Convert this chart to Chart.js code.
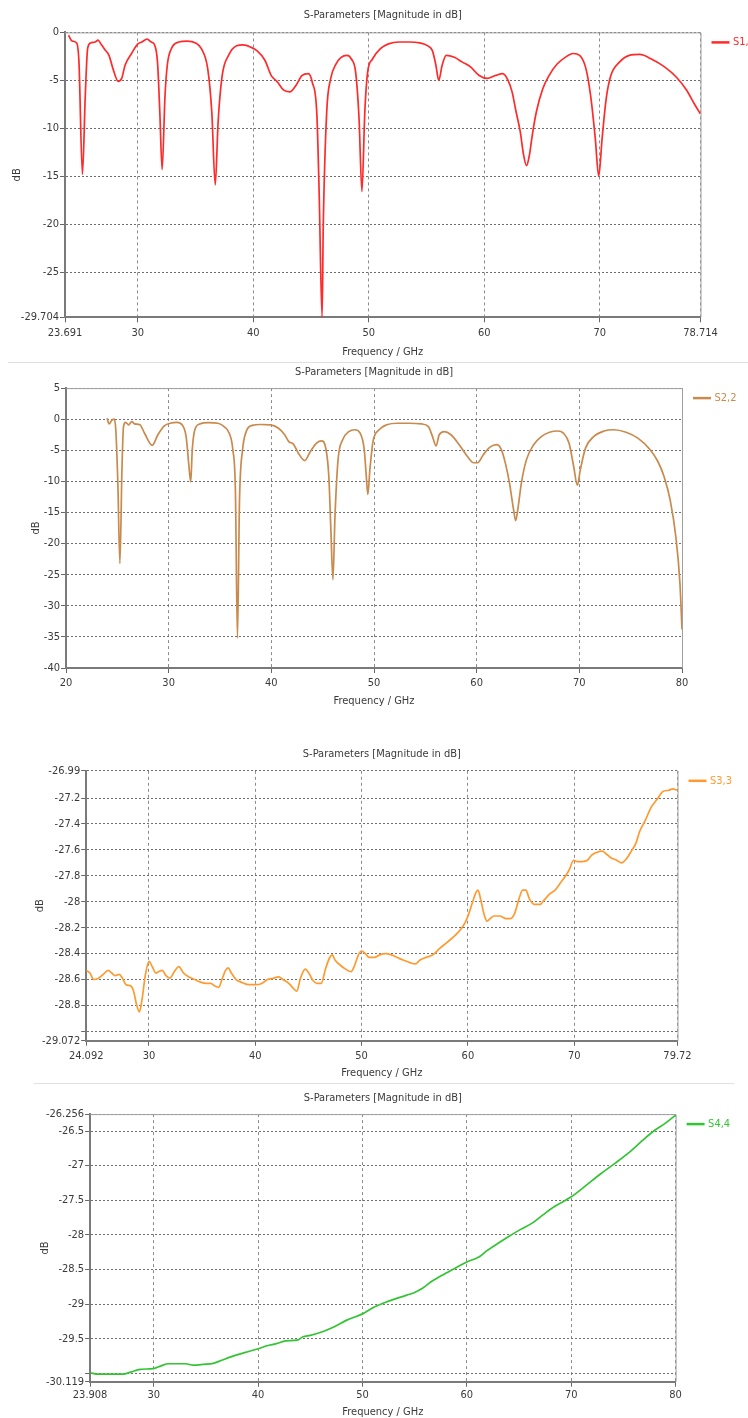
<!DOCTYPE html>
<html>
<head>
<meta charset="utf-8">
<script src="https://cdn.jsdelivr.net/npm/chart.js@4.4.1/dist/chart.umd.min.js"></script>
<style>
    html, body { margin: 0; padding: 0; background: #ffffff; }
    #page { position: relative; width: 748px; height: 1418px; overflow: hidden; }
    #page canvas { position: absolute; left: 0; }
    .sep { position: absolute; height: 1px; background: #e0e0e0; }
</style>
</head>
<body>
<div id="page">
    <canvas id="s11" width="748" height="362" style="top:0px"></canvas>
    <div class="sep" style="top:362px;left:8px;width:740px"></div>
    <canvas id="s22" width="748" height="353" style="top:362px"></canvas>
    <canvas id="s33" width="748" height="368" style="top:715px"></canvas>
    <div class="sep" style="top:1083px;left:34px;width:700px"></div>
    <canvas id="s44" width="748" height="334" style="top:1084px"></canvas>
</div>
<script>
const TITLE   = 'S-Parameters [Magnitude in dB]'
const X_TITLE = 'Frequency / GHz'
const Y_TITLE = 'dB'

// S1,1
const s1Label = 'S1,1'
const s1Freq = [24.0, 24.3, 24.7, 24.9, 25.2, 25.45, 25.65, 25.9, 26.3, 26.55, 26.8, 27.15, 27.5, 27.85, 28.3, 28.6,
    28.9, 29.45, 30.0, 30.35, 30.8, 31.15, 31.4, 31.7, 31.9, 32.1, 32.35, 32.55, 32.9, 33.55, 34.25, 35.0, 35.5,
    36.05, 36.4, 36.7, 36.95, 37.3, 37.85, 38.55, 39.1, 39.8, 40.3, 41.0, 41.55, 42.1, 42.6, 43.15, 43.7, 44.2,
    44.75, 45.1, 45.5, 45.7, 45.95, 46.05, 46.35, 46.7, 47.15, 47.6, 48.1, 48.5, 48.85, 49.15, 49.4, 49.65, 49.9,
    50.3, 51.0, 51.7, 52.6, 53.5, 54.4, 55.1, 55.5, 55.8, 56.05, 56.35, 56.7, 57.4, 58.1, 58.8, 59.55, 60.25,
    60.95, 61.6, 62.05, 62.4, 62.75, 63.1, 63.4, 63.65, 63.9, 64.15, 64.5, 65.05, 65.6, 66.3, 67.0, 67.7, 68.25,
    68.8, 69.2, 69.6, 69.9, 70.2, 70.55, 70.95, 71.7, 72.55, 73.45, 74.5, 75.6, 76.65, 77.5, 78.25, 78.714]
const s1Mag = [-0.3, -0.9, -1.1, -3.1, -14.8, -6.5, -1.7, -1.1, -1.0, -0.8, -1.2, -1.8, -2.4, -3.8, -5.1, -4.8,
    -3.4, -2.2, -1.2, -1.0, -0.7, -1.0, -1.2, -3.1, -8.3, -14.3, -6.6, -3.4, -1.7, -1.0, -0.9, -1.1, -1.7,
    -3.8, -8.3, -15.9, -9.3, -4.5, -2.4, -1.4, -1.3, -1.55, -1.9, -2.9, -4.5, -5.2, -6.0, -6.2, -5.5, -4.5,
    -4.3, -5.2, -8.6, -16.9, -29.7, -20.3, -8.3, -4.8, -3.3, -2.6, -2.4, -2.8, -4.1, -9.0, -16.6, -8.3, -4.1,
    -2.8, -1.7, -1.2, -1.0, -1.0, -1.1, -1.4, -1.9, -3.4, -5.0, -3.4, -2.4, -2.6, -3.1, -3.6, -4.5, -4.8,
    -4.5, -4.3, -5.0, -6.2, -8.3, -10.3, -12.8, -13.9, -12.8, -10.7, -8.3, -5.9, -4.5, -3.3, -2.6, -2.2, -2.4,
    -3.8, -6.6, -11.0, -15.0, -11.0, -6.9, -4.5, -3.1, -2.4, -2.3, -2.8, -3.6, -4.7, -6.0, -7.6, -8.5]
const s1XTicks = [23.691, 30, 40, 50, 60, 70, 78.714]
const s1YTicks = [0, -5, -10, -15, -20, -25, -29.704]

// S2,2
const s2Label = 'S2,2'
const s2Freq = [24.0, 24.2, 24.45, 24.7, 24.85, 25.05, 25.25, 25.45, 25.6, 25.8, 26.1, 26.4, 26.7, 27.2, 27.65,
    28.4, 28.95, 29.55, 30.15, 30.8, 31.3, 31.7, 31.95, 32.15, 32.3, 32.55, 33.05, 33.85, 34.8, 35.4, 35.9,
    36.25, 36.5, 36.7, 36.9, 37.2, 37.55, 38.15, 38.95, 39.9, 40.7, 41.3, 41.7, 42.15, 42.65, 43.25, 43.8,
    44.4, 44.9, 45.3, 45.6, 45.8, 46.0, 46.2, 46.5, 46.95, 47.55, 48.15, 48.65, 49.05, 49.25, 49.4, 49.6,
    49.9, 50.5, 51.25, 52.25, 53.4, 54.6, 55.3, 55.7, 56.05, 56.35, 56.85, 57.5, 58.3, 59.1, 59.7, 60.1,
    60.65, 61.3, 61.95, 62.4, 62.8, 63.2, 63.6, 63.8, 64.05, 64.35, 64.85, 65.55, 66.3, 67.1, 67.9, 68.45,
    69.0, 69.45, 69.8, 70.1, 70.6, 71.4, 72.4, 73.35, 74.55, 75.7, 76.9, 77.65, 78.25, 78.85, 79.4, 79.8, 80.0]
const s2Mag = [0.15, -0.75, -0.2, 0, -1.7, -10.3, -23.2, -8.1, -1.2, -0.5, -0.9, -0.4, -0.75, -0.9, -2.25,
    -4.2, -2.5, -1.1, -0.65, -0.5, -0.9, -2.8, -7.1, -10.1, -4.9, -1.7, -0.75, -0.55, -0.65, -1.2, -2.25,
    -4.9, -11.4, -35.2, -13.0, -4.9, -2.0, -1.0, -0.85, -0.9, -1.45, -2.5, -3.6, -4.0, -5.5, -6.65, -5.2,
    -3.85, -3.5, -4.65, -9.2, -17.8, -25.8, -15.6, -6.5, -3.3, -2.0, -1.7, -2.25, -4.9, -9.2, -12.1, -8.1,
    -3.6, -1.7, -0.9, -0.65, -0.65, -0.75, -1.2, -2.8, -4.3, -2.5, -2.0, -2.5, -4.1, -6.0, -7.0, -7.0,
    -5.7, -4.5, -4.1, -4.9, -7.1, -10.3, -14.6, -16.3, -14.0, -10.3, -6.5, -4.1, -2.8, -2.1, -1.9, -2.25,
    -3.85, -7.6, -10.6, -8.1, -4.65, -2.8, -1.9, -1.7, -2.1, -3.05, -4.9, -6.8, -9.2, -13.0, -18.9, -26.4, -33.8]
const s2XTicks = [20, 30, 40, 50, 60, 70, 80]
const s2YTicks = [5, 0, -5, -10, -15, -20, -25, -30, -35, -40]

// S3,3
const s3Label = 'S3,3'
const s3Freq = [24.092, 24.45, 24.8, 25.25, 25.7, 26.15, 26.5, 26.8, 27.2, 27.5, 27.85, 28.3, 28.55, 28.85, 29.1,
    29.35, 29.65, 30.0, 30.3, 30.65, 30.9, 31.25, 31.6, 31.95, 32.45, 32.8, 33.25, 33.75, 34.3, 34.85, 35.4,
    35.8, 36.2, 36.55, 36.9, 37.2, 37.45, 37.75, 38.2, 38.65, 39.35, 40.1, 40.6, 41.15, 41.7, 42.2, 42.6,
    43.15, 43.6, 43.9, 44.25, 44.7, 45.1, 45.45, 45.8, 46.2, 46.6, 47.0, 47.25, 47.5, 48.0, 48.5, 49.0,
    49.35, 49.7, 50.0, 50.35, 50.7, 51.2, 51.7, 52.25, 52.8, 53.35, 53.9, 54.55, 55.05, 55.5, 56.05, 56.7,
    57.35, 58.1, 58.8, 59.35, 59.75, 60.1, 60.45, 60.75, 60.95, 61.2, 61.5, 61.8, 62.1, 62.45, 63.0, 63.55,
    64.0, 64.4, 64.8, 65.15, 65.45, 65.8, 66.25, 66.8, 67.15, 67.7, 68.2, 68.75, 69.2, 69.55, 69.95, 70.3,
    70.75, 71.25, 71.65, 72.1, 72.65, 73.0, 73.45, 74.0, 74.45, 74.9, 75.45, 75.8, 76.15, 76.7, 77.25, 77.8,
    78.35, 78.9, 79.25, 79.72]
const s3Mag = [-28.53, -28.55, -28.6, -28.59, -28.56, -28.53, -28.55, -28.57, -28.56, -28.59, -28.64, -28.65,
    -28.69, -28.8, -28.85, -28.75, -28.57, -28.46, -28.5, -28.55, -28.54, -28.53, -28.57, -28.59, -28.53, -28.5,
    -28.55, -28.58, -28.6, -28.62, -28.63, -28.63, -28.65, -28.66, -28.59, -28.53, -28.51, -28.55, -28.6, -28.62,
    -28.64, -28.64, -28.63, -28.6, -28.59, -28.58, -28.6, -28.63, -28.67, -28.69, -28.59, -28.52, -28.56, -28.61,
    -28.63, -28.63, -28.52, -28.43, -28.41, -28.45, -28.49, -28.52, -28.54, -28.49, -28.41, -28.38, -28.4, -28.43,
    -28.43, -28.41, -28.4, -28.41, -28.43, -28.45, -28.47, -28.48, -28.45, -28.43, -28.41, -28.36, -28.31,
    -28.26, -28.21, -28.16, -28.09, -28.0, -27.93, -27.91, -27.98, -28.09, -28.15, -28.13, -28.11, -28.11,
    -28.13, -28.13, -28.09, -27.98, -27.91, -27.91, -27.98, -28.02, -28.02, -27.99, -27.94, -27.91, -27.85,
    -27.8, -27.75, -27.68, -27.69, -27.69, -27.68, -27.64, -27.62, -27.61, -27.63, -27.66, -27.68, -27.7,
    -27.67, -27.6, -27.55, -27.46, -27.37, -27.27, -27.21, -27.15, -27.14, -27.13, -27.14]
const s3XTicks = [24.092, 30, 40, 50, 60, 70, 79.72]
const s3YTicks = [-26.99, -27.2, -27.4, -27.6, -27.8, -28, -28.2, -28.4, -28.6, -28.8, -29, -29.072]
const s3YUnlabeled = [-29]

// S4,4
const s4Label = 'S4,4'
const s4Freq = [23.908, 24.7, 25.6, 27.05, 27.8, 28.7, 29.95, 30.7, 31.4, 32.15, 33.05, 33.8, 34.7, 35.8, 36.5,
    37.6, 38.7, 40.1, 40.85, 41.75, 42.65, 43.75, 44.3, 45.0, 46.3, 47.4, 48.5, 50.0, 51.0, 52.1, 53.2,
    54.25, 55.0, 55.75, 56.65, 57.9, 59.0, 60.0, 61.15, 61.9, 63.0, 64.05, 65.15, 66.25, 67.3, 68.4, 70.0,
    71.3, 72.8, 74.25, 75.7, 76.8, 77.9, 79.0, 80.0]
const s4Mag = [-29.99, -30.01, -30.01, -30.01, -29.98, -29.94, -29.93, -29.89, -29.86, -29.86, -29.86, -29.88,
    -29.87, -29.85, -29.81, -29.75, -29.7, -29.64, -29.6, -29.57, -29.53, -29.52, -29.47, -29.45, -29.39,
    -29.32, -29.23, -29.14, -29.05, -28.98, -28.92, -28.87, -28.83, -28.77, -28.67, -28.56, -28.47, -28.39,
    -28.32, -28.23, -28.12, -28.02, -27.92, -27.83, -27.71, -27.59, -27.45, -27.3, -27.12, -26.96, -26.79,
    -26.64, -26.5, -26.39, -26.27]
const s4XTicks = [23.908, 30, 40, 50, 60, 70, 80]
const s4YTicks = [-26.256, -26.5, -27, -27.5, -28, -28.5, -29, -29.5, -30, -30.119]
const s4YUnlabeled = [-30]

const FONT_FAMILY = '"Liberation Sans Narrow", "DejaVu Sans Condensed", "Liberation Sans", sans-serif'
const TEXT_COLOR = '#3a3a3a'

const framePlugin = {
    id: 'frame',
    beforeDatasetsDraw(chart, args, opts) {
        const { ctx, chartArea: a } = chart;
        ctx.save();
        ctx.strokeStyle = '#a0a0a0';
        ctx.lineWidth = 1;
        ctx.beginPath();
        if (opts.top !== false) {
            ctx.moveTo(a.left, a.top + 0.5);
            ctx.lineTo(a.right + 0.5, a.top + 0.5);
        } else {
            ctx.moveTo(a.right + 0.5, a.top);
        }
        ctx.lineTo(a.right + 0.5, a.bottom);
        ctx.stroke();
        ctx.restore();
    }
}

const sideLegendPlugin = {
    id: 'sideLegend',
    afterDraw(chart) {
        const { ctx, chartArea: a } = chart;
        const ds = chart.data.datasets[0];
        const y = a.top + 10;
        ctx.save();
        ctx.strokeStyle = ds.borderColor;
        ctx.lineWidth = 2.5;
        ctx.beginPath();
        ctx.moveTo(a.right + 11, y);
        ctx.lineTo(a.right + 29, y);
        ctx.stroke();
        ctx.fillStyle = ds.borderColor;
        ctx.font = '11px ' + FONT_FAMILY;
        ctx.textBaseline = 'middle';
        ctx.fillText(ds.label, a.right + 32.5, y);
        ctx.restore();
    }
}

function fmt(v) {
    return String(+v.toFixed(3));
}

// g: layout of one panel, in canvas-local pixels
function makePanel(canvasId, label, color, freq, mag, xTicks, yTicks, yUnlabeled, g) {
    const font = { family: FONT_FAMILY, size: 11, lineHeight: 1.1 };
    return new Chart(document.getElementById(canvasId), {
        type: 'line',
        data: {
            datasets: [{
                label: label,
                data: freq.map((f, i) => ({ x: f, y: mag[i] })),
                borderColor: color,
                borderWidth: 1.7,
                pointRadius: 0,
                cubicInterpolationMode: 'monotone',
                fill: false,
            }]
        },
        options: {
            responsive: false,
            animation: false,
            events: [],
            layout: { padding: { left: 0, top: 0, right: g.padRight, bottom: 0 } },
            plugins: {
                legend: { display: false },
                tooltip: { enabled: false },
                frame: { top: g.frameTop },
                title: {
                    display: true,
                    text: TITLE,
                    fullSize: false,
                    color: TEXT_COLOR,
                    font: { ...font, weight: 'normal' },
                    padding: { top: g.titleTop, bottom: g.titleBottom },
                },
            },
            scales: {
                x: {
                    type: 'linear',
                    min: xTicks[0],
                    max: xTicks[xTicks.length - 1],
                    afterBuildTicks: s => { s.ticks = xTicks.map(v => ({ value: v })) },
                    afterFit: s => { s.height = g.xHeight },
                    ticks: {
                        autoSkip: false,
                        maxRotation: 0,
                        padding: g.xTickGap - 5,
                        color: TEXT_COLOR,
                        font: font,
                        callback: v => fmt(v),
                    },
                    grid: {
                        color: '#8c8c8c',
                        lineWidth: 1,
                        tickLength: 5,
                        tickColor: '#666666',
                        tickBorderDash: [],
                    },
                    border: { display: true, color: '#7a7a7a', width: 2, dash: [3, 3] },
                    title: {
                        display: true,
                        text: X_TITLE,
                        color: TEXT_COLOR,
                        font: font,
                        padding: { top: 0, bottom: g.xTitleBottom },
                    },
                },
                y: {
                    type: 'linear',
                    min: yTicks[yTicks.length - 1],
                    max: yTicks[0],
                    afterBuildTicks: s => { s.ticks = yTicks.slice().reverse().map(v => ({ value: v })) },
                    afterFit: s => { s.width = g.left },
                    ticks: {
                        autoSkip: false,
                        padding: 1,
                        color: TEXT_COLOR,
                        font: font,
                        callback: v => yUnlabeled.includes(v) ? '' : fmt(v),
                    },
                    grid: {
                        color: '#6e6e6e',
                        lineWidth: 1,
                        tickLength: 5,
                        tickColor: '#666666',
                        tickBorderDash: [],
                    },
                    border: { display: true, color: '#7a7a7a', width: 2, dash: [2, 2] },
                    title: {
                        display: true,
                        text: Y_TITLE,
                        color: TEXT_COLOR,
                        font: font,
                        padding: { top: g.yTitleLeft, bottom: 0 },
                    },
                },
            },
        },
        plugins: [framePlugin, sideLegendPlugin],
    });
}

makePanel('s11', s1Label, '#ff2a2a', s1Freq, s1Mag, s1XTicks, s1YTicks, [],
    { left: 65, padRight: 47.5, titleTop: 9, titleBottom: 11.3, xHeight: 44.7, xTickGap: 10, xTitleBottom: 4, yTitleLeft: 11, frameTop: true });
makePanel('s22', s2Label, '#c98a4e', s2Freq, s2Mag, s2XTicks, s2YTicks, [],
    { left: 66, padRight: 66, titleTop: 3.7, titleBottom: 10.3, xHeight: 47, xTickGap: 9, xTitleBottom: 8, yTitleLeft: 30, frameTop: true });
makePanel('s33', s3Label, '#ff9a30', s3Freq, s3Mag, s3XTicks, s3YTicks, s3YUnlabeled,
    { left: 86.2, padRight: 70.5, titleTop: 33, titleBottom: 10.7, xHeight: 42.3, xTickGap: 9, xTitleBottom: 4, yTitleLeft: 34, frameTop: false });
makePanel('s44', s4Label, '#33c433', s4Freq, s4Mag, s4XTicks, s4YTicks, s4YUnlabeled,
    { left: 90.1, padRight: 72.4, titleTop: 8, titleBottom: 10, xHeight: 36.3, xTickGap: 7.3, xTitleBottom: 0, yTitleLeft: 39, frameTop: true });
</script>
</body>
</html>
